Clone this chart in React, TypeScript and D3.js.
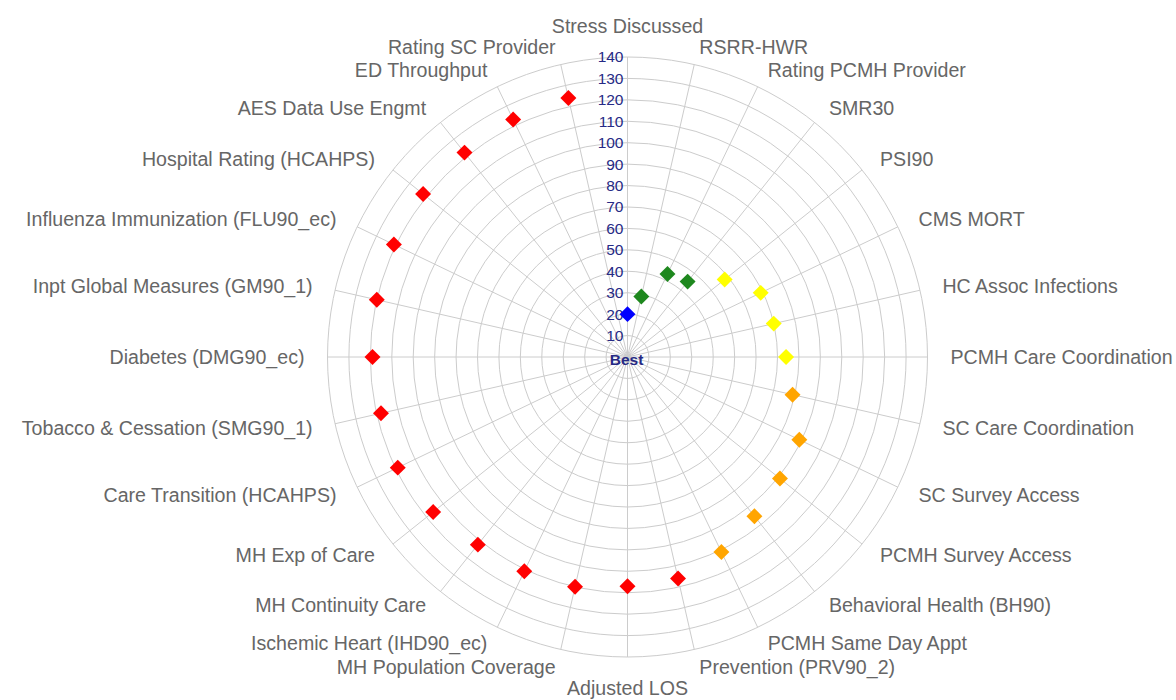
import React, { useEffect, useRef } from 'react';
import * as d3 from 'd3';

// categories, clockwise from the top
const categories = [
  'Stress Discussed',
  'RSRR-HWR',
  'Rating PCMH Provider',
  'SMR30',
  'PSI90',
  'CMS MORT',
  'HC Assoc Infections',
  'PCMH Care Coordination',
  'SC Care Coordination',
  'SC Survey Access',
  'PCMH Survey Access',
  'Behavioral Health (BH90)',
  'PCMH Same Day Appt',
  'Prevention (PRV90_2)',
  'Adjusted LOS',
  'MH Population Coverage',
  'Ischemic Heart (IHD90_ec)',
  'MH Continuity Care',
  'MH Exp of Care',
  'Care Transition (HCAHPS)',
  'Tobacco & Cessation (SMG90_1)',
  'Diabetes (DMG90_ec)',
  'Inpt Global Measures (GM90_1)',
  'Influenza Immunization (FLU90_ec)',
  'Hospital Rating (HCAHPS)',
  'AES Data Use Engmt',
  'ED Throughput',
  'Rating SC Provider',
];

const values = [
  20, 29, 43, 45, 58, 69, 70, 74, 79, 89, 91, 95, 101, 106, 107, 110, 111, 112,
  116, 119, 118, 119, 120, 121, 122, 122, 123, 124,
];

// performance tier of each measure (0 = best)
const tiers = [
  0, 1, 1, 1, 2, 2, 2, 2, 3, 3, 3, 3, 3, 4, 4, 4, 4, 4, 4, 4, 4, 4, 4, 4, 4, 4,
  4, 4,
];

const radialTicks = [10, 20, 30, 40, 50, 60, 70, 80, 90, 100, 110, 120, 130, 140];

const tierColors = ['#0000ff', '#1e881e', '#ffff00', '#ffa500', '#ff0000'];

const App: React.FC = () => {
  const ref = useRef<SVGSVGElement>(null);

  useEffect(() => {
    if (!ref.current) return;
    const svg = d3.select(ref.current);
    svg.selectAll('*').remove();

    const cx = 627.5;
    const cy = 357;
    const outer = 300;

    const r = d3.scaleLinear().domain([0, 140]).range([0, outer]);
    const angle = d3
      .scaleLinear()
      .domain([0, categories.length])
      .range([0, 2 * Math.PI]);

    svg
      .append('rect')
      .attr('width', 1176)
      .attr('height', 700)
      .attr('fill', '#ffffff');

    const g = svg.append('g').attr('transform', `translate(${cx},${cy})`);

    // concentric grid
    g.append('g')
      .selectAll('circle')
      .data(radialTicks)
      .enter()
      .append('circle')
      .attr('r', (d) => r(d))
      .attr('fill', 'none')
      .attr('stroke', '#cccccc')
      .attr('stroke-width', 1);

    // spokes
    g.append('g')
      .selectAll('line')
      .data(categories)
      .enter()
      .append('line')
      .attr('x1', 0)
      .attr('y1', 0)
      .attr('x2', (_, i) => outer * Math.sin(angle(i)))
      .attr('y2', (_, i) => -outer * Math.cos(angle(i)))
      .attr('stroke', '#cccccc')
      .attr('stroke-width', 1);

    // category labels
    g.append('g')
      .selectAll('text')
      .data(categories)
      .enter()
      .append('text')
      .attr('x', (_, i) => {
        const s = Math.sin(angle(i));
        if (Math.abs(s) < 1e-6) return 0;
        return 323 * s;
      })
      .attr('y', (_, i) => {
        const a = angle(i);
        const s = Math.sin(a);
        if (Math.abs(s) < 1e-6) return -331 * Math.cos(a);
        return -318 * Math.cos(a);
      })
      .attr('dy', '0.35em')
      .attr('text-anchor', (_, i) => {
        const s = Math.sin(angle(i));
        if (Math.abs(s) < 1e-6) return 'middle';
        return s > 0 ? 'start' : 'end';
      })
      .style('font-family', '"Liberation Sans", Arial, sans-serif')
      .style('font-size', '19.6px')
      .attr('fill', '#666666')
      .text((d) => d);

    // radial axis labels
    g.append('g')
      .selectAll('text')
      .data(radialTicks)
      .enter()
      .append('text')
      .attr('x', -4)
      .attr('y', (d) => -r(d))
      .attr('dy', '0.35em')
      .attr('text-anchor', 'end')
      .style('font-family', '"Liberation Sans", Arial, sans-serif')
      .style('font-size', '15.5px')
      .attr('fill', '#262a85')
      .text((d) => d);

    g.append('text')
      .attr('x', -1)
      .attr('y', 3)
      .attr('dy', '0.35em')
      .attr('text-anchor', 'middle')
      .style('font-family', '"Liberation Sans", Arial, sans-serif')
      .style('font-size', '15.5px')
      .style('font-weight', 'bold')
      .attr('fill', '#262a85')
      .text('Best');

    // points
    const diamondType = (d3 as any).symbolDiamond2 || d3.symbolDiamond;
    const diamond = d3.symbol().type(diamondType).size(162);

    g.append('g')
      .selectAll('path')
      .data(values)
      .enter()
      .append('path')
      .attr('d', diamond as any)
      .attr('transform', (d, i) => {
        const a = angle(i);
        return `translate(${r(d) * Math.sin(a)},${-r(d) * Math.cos(a)})`;
      })
      .attr('fill', (_, i) => tierColors[tiers[i]]);
  }, []);

  return (
    <svg
      ref={ref}
      width={1176}
      height={700}
      style={{ position: 'absolute', left: 0, top: 0 }}
    />
  );
};

export default App;
